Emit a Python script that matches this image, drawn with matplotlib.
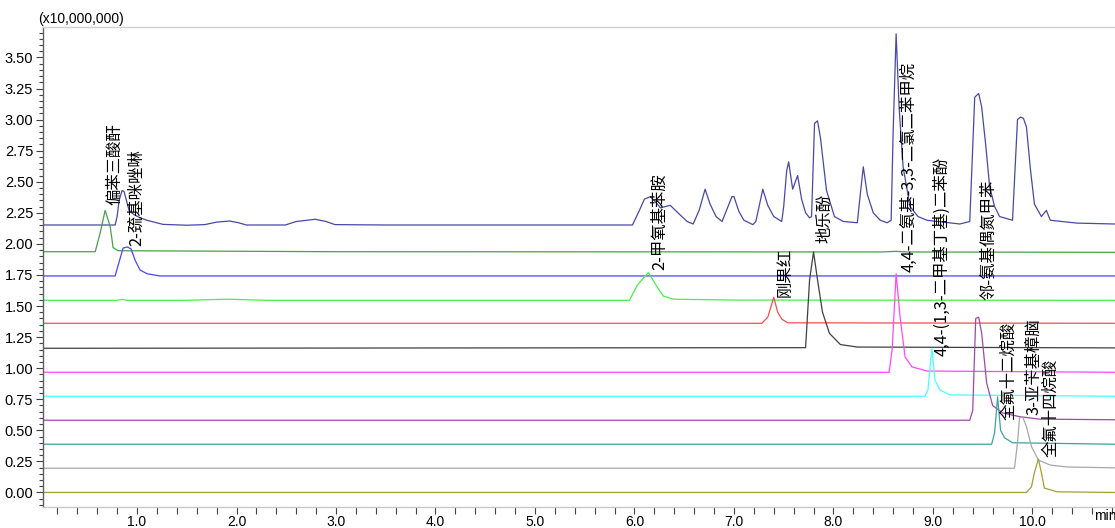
import matplotlib
matplotlib.use("Agg")
import matplotlib.pyplot as plt
from matplotlib.ticker import MultipleLocator, FixedLocator

plt.rcParams['font.family'] = ['Liberation Sans', 'DejaVu Sans']

# ---- trace data (time in min, signal in x10,000,000, offsets included) ----
navy_t = [0.05, 0.78, 0.80, 0.82, 0.85, 0.87, 0.90, 0.92, 0.97, 1.03, 1.10, 1.26, 1.50, 1.68, 1.80, 1.93, 2.02, 2.10,
          2.49, 2.60, 2.79, 2.90, 2.99, 3.5, 5.98, 6.05, 6.10, 6.16, 6.22, 6.26, 6.31, 6.36, 6.45, 6.53, 6.59,
          6.65, 6.71, 6.76, 6.82, 6.88, 6.98, 7.00, 7.05, 7.10, 7.19, 7.22, 7.29, 7.34, 7.40, 7.48,
          7.50, 7.53, 7.55, 7.59, 7.64, 7.68, 7.72, 7.76, 7.78, 7.81, 7.84, 7.87, 7.93, 8.01, 8.10, 8.24,
          8.27, 8.30, 8.34, 8.40, 8.47, 8.54, 8.58, 8.60, 8.63, 8.66, 8.70, 8.77, 8.85, 8.94, 9.27, 9.37,
          9.42, 9.46, 9.49, 9.53, 9.57, 9.62, 9.67, 9.80, 9.85, 9.88, 9.91, 9.94, 9.98, 10.02, 10.09,
          10.14, 10.18, 10.45, 10.83]
navy_v = [2.152, 2.152, 2.22, 2.35, 2.43, 2.42, 2.33, 2.27, 2.235, 2.21, 2.19, 2.157, 2.15, 2.155, 2.175, 2.184, 2.17, 2.152,
          2.152, 2.18, 2.198, 2.18, 2.155, 2.152, 2.152, 2.27, 2.36, 2.38, 2.33, 2.29, 2.30, 2.31, 2.24, 2.18, 2.16,
          2.27, 2.44, 2.32, 2.22, 2.18, 2.38, 2.38, 2.26, 2.19, 2.155, 2.18, 2.44, 2.31, 2.22, 2.18,
          2.30, 2.59, 2.66, 2.44, 2.55, 2.36, 2.25, 2.21, 2.22, 2.97, 2.99, 2.85, 2.43, 2.22, 2.18, 2.17,
          2.40, 2.62, 2.40, 2.25, 2.19, 2.17, 2.19, 2.90, 3.69, 3.10, 2.62, 2.30, 2.22, 2.19, 2.16, 2.18,
          3.18, 3.21, 3.10, 2.80, 2.46, 2.30, 2.22, 2.19, 3.00, 3.02, 3.01, 2.94, 2.60, 2.32, 2.22,
          2.27, 2.19, 2.167, 2.16]

dgreen_t = [0.05, 0.58, 0.63, 0.68, 0.73, 0.76, 0.81, 3.0, 8.5, 8.62, 8.75, 10.83]
dgreen_v = [1.937, 1.937, 2.09, 2.27, 2.14, 1.97, 1.945, 1.937, 1.935, 1.94, 1.935, 1.932]

blue_t = [0.05, 0.78, 0.82, 0.86, 0.90, 0.94, 0.98, 1.03, 1.10, 1.23, 10.83]
blue_v = [1.742, 1.742, 1.855, 1.966, 1.975, 1.96, 1.87, 1.79, 1.76, 1.742, 1.742]

lgreen_t = [0.05, 0.80, 0.85, 0.90, 1.5, 1.9, 2.3, 5.95, 6.03, 6.14, 6.23, 6.29, 6.39, 7.0, 10.83]
lgreen_v = [1.546, 1.546, 1.553, 1.546, 1.546, 1.555, 1.546, 1.546, 1.67, 1.77, 1.65, 1.58, 1.555, 1.548, 1.546]

red_t = [0.05, 7.28, 7.34, 7.40, 7.44, 7.48, 7.54, 10.83]
red_v = [1.361, 1.361, 1.41, 1.57, 1.45, 1.395, 1.365, 1.361]

black_t = [0.05, 7.72, 7.76, 7.80, 7.84, 7.89, 7.96, 8.07, 8.24, 10.83]
black_v = [1.160, 1.165, 1.71, 1.935, 1.71, 1.45, 1.28, 1.19, 1.17, 1.163]

magenta_t = [0.05, 8.56, 8.59, 8.63, 8.67, 8.72, 8.79, 8.94, 10.83]
magenta_v = [0.967, 0.967, 1.15, 1.76, 1.41, 1.09, 1.01, 0.977, 0.967]

cyan_t = [0.05, 8.92, 8.95, 8.99, 9.02, 9.07, 9.17, 10.83]
cyan_v = [0.774, 0.774, 0.825, 1.16, 0.905, 0.825, 0.785, 0.774]

purple_t = [0.05, 9.37, 9.40, 9.43, 9.46, 9.49, 9.54, 9.60, 9.70, 9.87, 10.07, 10.83]
purple_v = [0.581, 0.581, 0.66, 1.40, 1.41, 1.28, 0.88, 0.70, 0.64, 0.61, 0.59, 0.585]

teal_t = [0.05, 9.59, 9.62, 9.65, 9.68, 9.72, 9.80, 10.83]
teal_v = [0.388, 0.388, 0.48, 0.77, 0.50, 0.44, 0.40, 0.388]

gray_t = [0.05, 9.82, 9.85, 9.87, 9.90, 9.94, 9.99, 10.06, 10.18, 10.35, 10.83]
gray_v = [0.195, 0.195, 0.40, 0.60, 0.61, 0.53, 0.37, 0.26, 0.22, 0.205, 0.198]

olive_t = [0.05, 9.94, 9.99, 10.02, 10.06, 10.09, 10.12, 10.25, 10.83]
olive_v = [0.0, 0.0, 0.045, 0.16, 0.27, 0.16, 0.035, 0.005, 0.0]

traces = [
    (navy_t, navy_v, '#4848a8'),
    (dgreen_t, dgreen_v, '#48a048'),
    (blue_t, blue_v, '#4848f0'),
    (lgreen_t, lgreen_v, '#48f048'),
    (red_t, red_v, '#f05050'),
    (black_t, black_v, '#404040'),
    (magenta_t, magenta_v, '#ff48ff'),
    (cyan_t, cyan_v, '#48ffff'),
    (purple_t, purple_v, '#a048a8'),
    (teal_t, teal_v, '#40a0a0'),
    (gray_t, gray_v, '#a8a8a8'),
    (olive_t, olive_v, '#a0a038'),
]

# ---- peak labels ----
label_names = ['偏苯三酸酐', '2-巯基咪唑啉', '2-甲氧基苯胺', '刚果红', '地乐酚',
               '4,4-二氨基-3,3-二氯二苯甲烷', '4,4-(1,3-二甲基丁基)二苯酚', '邻-氨基偶氮甲苯',
               '全氟十二烷酸', '3-亚苄基樟脑', '全氟十四烷酸']
label_t = [0.78, 1.0, 6.25, 7.51, 7.91, 8.76, 9.09, 9.56, 9.76, 10.01, 10.18]
label_v = [2.31, 1.98, 1.79, 1.57, 2.01, 1.77, 1.10, 1.55, 0.58, 0.625, 0.285]

yticks = [0.00, 0.25, 0.50, 0.75, 1.00, 1.25, 1.50, 1.75, 2.00, 2.25, 2.50, 2.75, 3.00, 3.25, 3.50]
xticks = [1.0, 2.0, 3.0, 4.0, 5.0, 6.0, 7.0, 8.0, 9.0, 10.0]

fig = plt.figure(figsize=(11.15, 5.28), dpi=100)
ax = fig.add_axes([43/1115, 1 - 507/528, 1 - 43/1115, (507 - 27)/528])

for t, v, c in traces:
    ax.plot(t, v, color=c, lw=0.9)

cjk = ['Noto Sans CJK SC', 'DejaVu Sans']
for name, t, v in zip(label_names, label_t, label_v):
    ax.text(t, v, name, rotation=90, ha='center', va='bottom', fontsize=11.8,
            family=cjk, color='black')

ax.set_xlim(0.055, 10.83)
ax.set_ylim(-0.117, 3.745)

ax.yaxis.set_major_locator(FixedLocator(yticks))
ax.yaxis.set_minor_locator(MultipleLocator(0.05))
ax.set_yticklabels([f'{y:.2f}' for y in yticks])
ax.xaxis.set_major_locator(FixedLocator(xticks))
ax.xaxis.set_minor_locator(MultipleLocator(0.2))
ax.set_xticklabels([f'{x:.1f}' for x in xticks])

ax.tick_params(axis='y', which='major', length=5, width=0.8, color='#404040', labelsize=10.5, pad=2)
ax.tick_params(axis='y', which='minor', length=3, width=0.8, color='#404040')
ax.tick_params(axis='x', which='major', length=5, width=0.8, color='#404040', labelsize=10, pad=0.5)
ax.tick_params(axis='x', which='minor', length=5, width=0.8, color='#404040')

ax.spines['left'].set_color('#606060')
ax.spines['bottom'].set_color('#c8c8c8')
ax.spines['top'].set_color('#d0d0d0')
ax.spines['right'].set_visible(False)
for s in ax.spines.values():
    s.set_linewidth(1.0)

fig.text(38/1115, 1 - 19/528, '(x10,000,000)', fontsize=10, ha='left', va='center')
fig.text(1094/1115, 1 - 516/528, 'min', fontsize=10, ha='left', va='center')

fig.savefig('out.png', dpi=100)
